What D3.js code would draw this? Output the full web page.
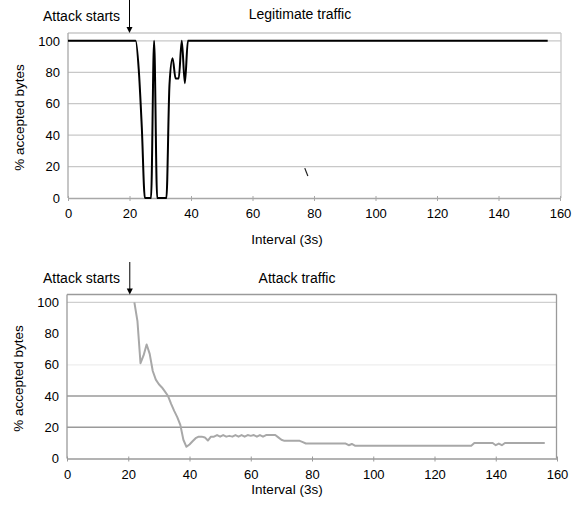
<!DOCTYPE html>
<html>
<head>
<meta charset="utf-8">
<script src="https://cdn.jsdelivr.net/npm/d3@7"></script>
<style>
  html, body { margin: 0; padding: 0; background: #fff; }
  svg { display: block; font-family: "Liberation Sans", Arial, sans-serif; }
</style>
</head>
<body>
<svg id="chart" width="580" height="508"></svg>
<script>
// ---------------- DATA ----------------
const xTicks = [0, 20, 40, 60, 80, 100, 120, 140, 160];
const yTicks = [0, 20, 40, 60, 80, 100];

// Legitimate traffic: % accepted bytes for intervals 0..156
const legitStart = 0;
const legitValues = [
  100,100,100,100,100,100,100,100,100,100,   // 0-9
  100,100,100,100,100,100,100,100,100,100,   // 10-19
  100,100,100,82,45,0,0,0,100,0,             // 20-29
  0,0,0,72,89,76,76,100,73,100,              // 30-39
  100,100,100,100,100,100,100,100,100,100,   // 40-49
  100,100,100,100,100,100,100,100,100,100,   // 50-59
  100,100,100,100,100,100,100,100,100,100,   // 60-69
  100,100,100,100,100,100,100,100,100,100,   // 70-79
  100,100,100,100,100,100,100,100,100,100,   // 80-89
  100,100,100,100,100,100,100,100,100,100,   // 90-99
  100,100,100,100,100,100,100,100,100,100,   // 100-109
  100,100,100,100,100,100,100,100,100,100,   // 110-119
  100,100,100,100,100,100,100,100,100,100,   // 120-129
  100,100,100,100,100,100,100,100,100,100,   // 130-139
  100,100,100,100,100,100,100,100,100,100,   // 140-149
  100,100,100,100,100,100,100                // 150-156
];
// small stray stroke seen in the top panel (interval, value)
const legitStray = [[77, 19], [78, 14]];

// Attack traffic: % accepted bytes for intervals 22..156
const attackStart = 22;
const attackValues = [
  100,88,61,66,73,67,56,50.5,                // 22-29
  47.5,45.5,42.8,40,35,30.5,26.5,21.5,12,7.5, // 30-39
  9,11,13,14,14,13.5,11.5,14,14,15,          // 40-49
  14,15,14,14.5,14,15,14,15,14,15,           // 50-59
  14.5,15,14,15,14,15,15,15,15,13.5,         // 60-69
  12,11.3,11.3,11.3,11.3,11.3,11.3,10.5,9.6,9.6, // 70-79
  9.6,9.6,9.6,9.6,9.6,9.6,9.6,9.6,9.6,9.6,   // 80-89
  9.6,9.6,8.5,9.3,8.2,8.2,8.2,8.2,8.2,8.2,   // 90-99
  8.2,8.2,8.2,8.2,8.2,8.2,8.2,8.2,8.2,8.2,   // 100-109
  8.2,8.2,8.2,8.2,8.2,8.2,8.2,8.2,8.2,8.2,   // 110-119
  8.2,8.2,8.2,8.2,8.2,8.2,8.2,8.2,8.2,8.2,   // 120-129
  8.2,8.2,8.2,9.9,9.9,9.9,9.9,9.9,9.9,9.9,   // 130-139
  8.5,9.6,8.5,9.9,9.9,9.9,9.9,9.9,9.9,9.9,   // 140-149
  9.9,9.9,9.9,9.9,9.9,9.9,9.9                // 150-156
];

const attackStartsAt = [20, 20.5]; // arrow position per panel
const panelTitles = ["Legitimate traffic", "Attack traffic"];
const annotationText = "Attack starts";
const xTitle = "Interval (3s)";
const yTitle = "% accepted bytes";

// ---------------- DRAW ----------------
const svg = d3.select("#chart");

function toPoints(start, values) {
  return values.map((v, i) => [start + i, v]);
}

const panels = [
  {
    left: 68, right: 560, top: 33, bottom: 198,
    boxRight: 561,
    data: toPoints(legitStart, legitValues),
    color: "#000", width: 2, curve: d3.curveMonotoneX,
    gridColors: { 20: "#c8c8c8", 40: "#c8c8c8", 60: "#c8c8c8", 80: "#c8c8c8", 100: "#c8c8c8" },
    topColor: "#c8c8c8", axisColor: "#a8a8a8",
    title: panelTitles[0], arrowX: attackStartsAt[0], arrowTop: 0,
    titleX: 300, titleY: 19, annY: 21, xTitleY: 244, yTitleX: 24,
    stray: legitStray
  },
  {
    left: 67, right: 557, top: 294.5, bottom: 458.5,
    boxRight: 556.5,
    data: toPoints(attackStart, attackValues),
    color: "#a8a8a8", width: 2, curve: d3.curveLinear,
    gridColors: { 20: "#9a9a9a", 40: "#9a9a9a", 60: "#eeeeee", 80: "#ffffff", 100: "#cfcfcf" },
    topColor: "#9a9a9a", axisColor: "#9a9a9a",
    title: panelTitles[1], arrowX: attackStartsAt[1], arrowTop: 262,
    titleX: 297, titleY: 283, annY: 283, xTitleY: 494, yTitleX: 23,
    stray: null
  }
];

panels.forEach(p => {
  const g = svg.append("g");
  const x = d3.scaleLinear().domain([0, 160]).range([p.left, p.right]);
  const y = d3.scaleLinear().domain([0, 105]).range([p.bottom, p.top]);

  // gridlines
  g.append("g").selectAll("line").data(yTicks.filter(t => t > 0)).join("line")
    .attr("x1", p.left).attr("x2", p.boxRight)
    .attr("y1", d => y(d)).attr("y2", d => y(d))
    .attr("stroke", d => p.gridColors[d]).attr("stroke-width", 1.3);

  // top border & right border
  g.append("line").attr("x1", p.left).attr("x2", p.boxRight)
    .attr("y1", p.top).attr("y2", p.top)
    .attr("stroke", p.topColor).attr("stroke-width", 1.5);
  g.append("line").attr("x1", p.boxRight).attr("x2", p.boxRight)
    .attr("y1", p.top).attr("y2", p.bottom)
    .attr("stroke", p.topColor).attr("stroke-width", 1.3);

  // x axis
  const xAxis = d3.axisBottom(x).tickValues(xTicks).tickSize(3).tickSizeOuter(0).tickPadding(8);
  const xa = g.append("g").attr("transform", `translate(0,${p.bottom})`).call(xAxis);
  xa.select(".domain").attr("stroke", p.axisColor).attr("stroke-width", 1.3);
  xa.selectAll(".tick line").attr("stroke", p.axisColor).attr("y1", -2);
  xa.selectAll(".tick text").attr("fill", "#000").attr("font-size", 13)
    .attr("font-family", "'Liberation Sans', Arial, sans-serif");

  // y axis
  const yAxis = d3.axisLeft(y).tickValues(yTicks).tickSize(0).tickSizeOuter(0).tickPadding(8);
  const ya = g.append("g").attr("transform", `translate(${p.left},0)`).call(yAxis);
  ya.select(".domain").attr("stroke", p.axisColor).attr("stroke-width", 1.3)
    .attr("d", `M0,${p.top}V${p.bottom}`);
  ya.selectAll(".tick text").attr("fill", "#000").attr("font-size", 13)
    .attr("font-family", "'Liberation Sans', Arial, sans-serif");

  // data line
  const line = d3.line().x(d => x(d[0])).y(d => y(d[1])).curve(p.curve);
  g.append("path").datum(p.data).attr("d", line)
    .attr("fill", "none").attr("stroke", p.color).attr("stroke-width", p.width)
    .attr("stroke-linejoin", "round");

  if (p.stray) {
    g.append("path").datum(p.stray).attr("d", d3.line().x(d => x(d[0])).y(d => y(d[1])))
      .attr("fill", "none").attr("stroke", "#222").attr("stroke-width", 1.2);
  }

  // titles
  g.append("text").attr("x", p.titleX).attr("y", p.titleY).attr("text-anchor", "middle")
    .attr("font-size", 14).text(p.title);
  g.append("text").attr("x", 81.5).attr("y", p.annY).attr("text-anchor", "middle")
    .attr("font-size", 14).text(annotationText);
  g.append("text").attr("x", 287).attr("y", p.xTitleY).attr("text-anchor", "middle")
    .attr("font-size", 13.5).text(xTitle);
  g.append("text")
    .attr("transform", `translate(${p.yTitleX},${(p.top + p.bottom) / 2 + 2}) rotate(-90)`)
    .attr("text-anchor", "middle").attr("font-size", 13.5).text(yTitle);

  // arrow
  const ax = x(p.arrowX);
  g.append("line").attr("x1", ax).attr("x2", ax).attr("y1", p.arrowTop).attr("y2", p.top - 3)
    .attr("stroke", "#000").attr("stroke-width", 1);
  g.append("path")
    .attr("d", `M${ax - 3},${p.top - 6}L${ax + 3},${p.top - 6}L${ax},${p.top}Z`)
    .attr("fill", "#000");
});
</script>
</body>
</html>
